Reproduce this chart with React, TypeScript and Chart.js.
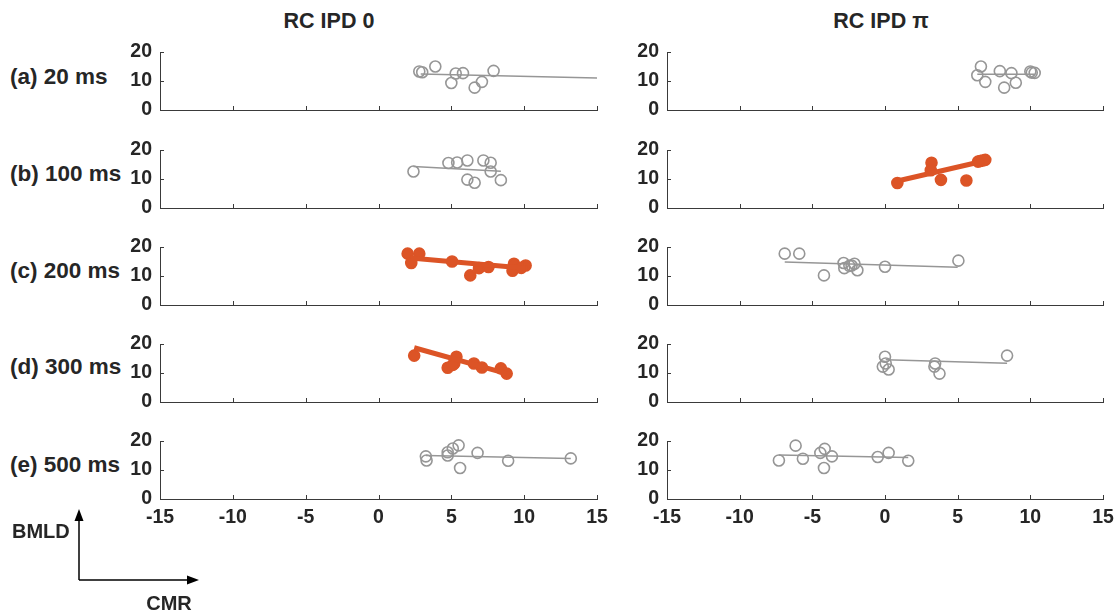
import React, { useEffect, useRef } from 'react';
import { Chart, registerables } from 'chart.js';
Chart.register(...registerables);

// ---------- tick labels / categories ----------
const xTicks = [-15, -10, -5, 0, 5, 10, 15];
const yTicks = [0, 10, 20];
const rowLabels = ['(a) 20 ms', '(b) 100 ms', '(c) 200 ms', '(d) 300 ms', '(e) 500 ms'];
const colTitles = ['RC IPD 0', 'RC IPD π'];

// ---------- data (CMR on x, BMLD on y) ----------
// (a) 20 ms
const a0X = [2.8, 3.0, 3.9, 5.0, 5.3, 5.8, 6.6, 7.1, 7.9];
const a0Y = [13.3, 13.0, 15.0, 9.3, 12.6, 12.7, 7.7, 9.7, 13.5];
const a0FitX = [2.9, 15];
const a0FitY = [12.4, 11.0];
const aPiX = [6.6, 6.35, 6.9, 7.9, 8.7, 8.2, 9.0, 10.0, 10.3, 10.1];
const aPiY = [15.0, 12.0, 9.7, 13.4, 12.7, 7.7, 9.4, 13.3, 12.8, 12.9];
const aPiFitX = [6.35, 10.3];
const aPiFitY = [12.3, 12.3];
// (b) 100 ms
const b0X = [2.4, 4.8, 5.4, 6.1, 7.2, 7.7, 7.7, 6.1, 6.6, 8.4];
const b0Y = [12.6, 15.5, 15.7, 16.4, 16.4, 15.6, 12.6, 9.8, 8.7, 9.6];
const b0FitX = [2.4, 8.4];
const b0FitY = [14.3, 12.7];
const bPiX = [0.85, 3.2, 3.15, 3.85, 5.6, 6.4, 6.7, 6.55, 6.9];
const bPiY = [8.6, 15.6, 13.0, 9.7, 9.5, 16.0, 16.4, 16.2, 16.6];
const bPiFitX = [0.85, 6.8];
const bPiFitY = [9.3, 16.2];
// (c) 200 ms
const c0X = [2.0, 2.25, 2.8, 5.05, 6.3, 6.9, 7.55, 9.3, 9.2, 10.1, 9.8];
const c0Y = [17.7, 14.5, 17.7, 15.0, 10.2, 12.7, 13.1, 14.2, 11.8, 13.6, 12.8];
const c0FitX = [2.2, 10.1];
const c0FitY = [16.2, 12.7];
const cPiX = [-6.9, -5.9, -4.2, -2.85, -2.8, -2.45, -2.1, -1.9, -2.3, 0.0, 5.05];
const cPiY = [17.7, 17.7, 10.2, 14.5, 12.7, 13.5, 14.2, 12.0, 13.6, 13.2, 15.3];
const cPiFitX = [-6.9, 5.0];
const cPiFitY = [14.8, 13.0];
// (d) 300 ms
const d0X = [2.45, 4.75, 5.35, 5.2, 5.1, 6.55, 7.1, 8.4, 8.8];
const d0Y = [16.0, 11.8, 15.6, 13.3, 12.8, 13.3, 11.9, 11.6, 9.8];
const d0FitX = [2.45, 8.8];
const d0FitY = [18.7, 9.8];
const dPiX = [0.0, 0.05, -0.15, 0.25, 3.45, 3.4, 3.75, 8.4];
const dPiY = [15.6, 13.3, 12.2, 11.2, 13.3, 12.2, 9.8, 16.0];
const dPiFitX = [0.05, 8.4];
const dPiFitY = [14.6, 13.4];
// (e) 500 ms
const e0X = [3.25, 3.3, 4.75, 4.75, 5.1, 5.5, 5.6, 6.8, 8.9, 13.2];
const e0Y = [14.7, 13.3, 16.1, 15.0, 17.4, 18.5, 10.7, 15.9, 13.2, 14.0];
const e0FitX = [3.25, 13.2];
const e0FitY = [15.0, 14.0];
const ePiX = [-7.3, -6.15, -5.65, -4.45, -4.15, -4.2, -3.65, -0.5, 0.25, 1.6];
const ePiY = [13.3, 18.4, 13.9, 15.9, 17.3, 10.7, 14.7, 14.5, 15.9, 13.2];
const ePiFitX = [-7.3, 1.6];
const ePiFitY = [15.2, 14.3];

// significance (filled orange) per panel [row][col]
const significant = [
  [false, false],
  [false, true],
  [true, false],
  [true, false],
  [false, false],
];

const panels = [
  [
    { x: a0X, y: a0Y, fx: a0FitX, fy: a0FitY },
    { x: aPiX, y: aPiY, fx: aPiFitX, fy: aPiFitY },
  ],
  [
    { x: b0X, y: b0Y, fx: b0FitX, fy: b0FitY },
    { x: bPiX, y: bPiY, fx: bPiFitX, fy: bPiFitY },
  ],
  [
    { x: c0X, y: c0Y, fx: c0FitX, fy: c0FitY },
    { x: cPiX, y: cPiY, fx: cPiFitX, fy: cPiFitY },
  ],
  [
    { x: d0X, y: d0Y, fx: d0FitX, fy: d0FitY },
    { x: dPiX, y: dPiY, fx: dPiFitX, fy: dPiFitY },
  ],
  [
    { x: e0X, y: e0Y, fx: e0FitX, fy: e0FitY },
    { x: ePiX, y: ePiY, fx: ePiFitX, fy: ePiFitY },
  ],
];

// ---------- styles / layout ----------
const FONT = '"Liberation Sans", Arial, Helvetica, sans-serif';
const TEXT = '#262626';
const AXIS = '#3a3a3a';
const GRAY = 'rgb(150,150,150)';
const ORANGE = '#dc5426';

const colPlotLeft = [160, 667];
const colPlotWidth = [437, 436];
const rowBottom = [110, 208, 305, 402, 499];
const PLOT_H = 58;
const PAD_TOP = 24;
const Y_W = 70;
const PAD_R = 22;
const TICK_FONT = 19.5;

const inwardTicks = {
  id: 'inwardTicks',
  afterDraw(chart: any) {
    const { ctx, chartArea, scales } = chart;
    const xs = scales.x;
    const ys = scales.y;
    ctx.save();
    ctx.strokeStyle = AXIS;
    ctx.lineWidth = 1;
    ctx.beginPath();
    for (const v of xTicks) {
      const px = Math.round(xs.getPixelForValue(v)) + 0.5;
      ctx.moveTo(px, chartArea.bottom);
      ctx.lineTo(px, chartArea.bottom - 4);
    }
    for (const v of yTicks) {
      const py = Math.round(ys.getPixelForValue(v)) + 0.5;
      ctx.moveTo(chartArea.left, py);
      ctx.lineTo(chartArea.left + 4, py);
    }
    ctx.stroke();
    ctx.restore();
  },
};

function Panel({ row, col }: { row: number; col: number }) {
  const ref = useRef<HTMLCanvasElement>(null);
  const showX = row === 4;
  const xh = showX ? 42 : 24;
  const left = colPlotLeft[col] - Y_W;
  const top = rowBottom[row] - PLOT_H - PAD_TOP;
  const width = Y_W + colPlotWidth[col] + PAD_R;
  const height = PAD_TOP + PLOT_H + xh;

  useEffect(() => {
    const p = panels[row][col];
    const sig = significant[row][col];
    const color = sig ? ORANGE : GRAY;
    const chart = new Chart(ref.current as HTMLCanvasElement, {
      type: 'scatter',
      data: {
        datasets: [
          {
            type: 'line',
            data: p.fx.map((v, i) => ({ x: v, y: p.fy[i] })),
            borderColor: color,
            borderWidth: sig ? 5 : 1.5,
            pointRadius: 0,
            showLine: true,
            fill: false,
            clip: false,
            order: 1,
          } as any,
          {
            type: 'scatter',
            data: p.x.map((v, i) => ({ x: v, y: p.y[i] })),
            pointRadius: 5.5,
            pointBorderWidth: 1.6,
            pointBorderColor: color,
            pointBackgroundColor: sig ? ORANGE : 'rgba(0,0,0,0)',
            clip: false,
            order: 2,
          } as any,
        ],
      },
      options: {
        animation: false,
        responsive: false,
        maintainAspectRatio: false,
        events: [],
        layout: { padding: { top: PAD_TOP, right: PAD_R, left: 0, bottom: 0 } },
        plugins: { legend: { display: false }, tooltip: { enabled: false } },
        scales: {
          x: {
            type: 'linear',
            min: -15,
            max: 15,
            afterFit: (s: any) => {
              s.height = xh;
            },
            afterBuildTicks: (s: any) => {
              s.ticks = xTicks.map((v) => ({ value: v }));
            },
            grid: { display: false, drawTicks: false },
            border: { display: true, color: AXIS, width: 1 },
            ticks: {
              display: showX,
              padding: 7,
              color: TEXT,
              font: { family: FONT, size: TICK_FONT, weight: 'bold' },
              maxRotation: 0,
            },
          },
          y: {
            type: 'linear',
            min: 0,
            max: 20,
            afterFit: (s: any) => {
              s.width = Y_W;
            },
            afterBuildTicks: (s: any) => {
              s.ticks = yTicks.map((v) => ({ value: v }));
            },
            grid: { display: false, drawTicks: false },
            border: { display: true, color: AXIS, width: 1 },
            ticks: {
              padding: 8,
              color: TEXT,
              font: { family: FONT, size: TICK_FONT, weight: 'bold' },
            },
          },
        },
      },
      plugins: [inwardTicks],
    } as any);
    return () => chart.destroy();
  }, [row, col]);

  return (
    <canvas
      ref={ref}
      width={width}
      height={height}
      style={{ position: 'absolute', left, top, width, height, display: 'block' }}
    />
  );
}

const rowLabelY = [77, 174, 271, 367, 465];
const titleCenters = [329, 881];

export default function App() {
  const textBase: React.CSSProperties = {
    position: 'absolute',
    fontFamily: FONT,
    fontWeight: 'bold',
    color: TEXT,
    whiteSpace: 'nowrap',
    lineHeight: 1,
  };
  return (
    <div style={{ position: 'absolute', left: 0, top: 0, width: 1115, height: 612, background: '#fff', overflow: 'hidden' }}>
      {colTitles.map((t, i) => (
        <div key={t} style={{ ...textBase, fontSize: 21.5, left: titleCenters[i], top: 22, transform: 'translate(-50%, -50%)' }}>
          {t}
        </div>
      ))}
      {rowLabels.map((t, i) => (
        <div key={t} style={{ ...textBase, fontSize: 22.5, left: 10, top: rowLabelY[i], transform: 'translateY(-50%)' }}>
          {t}
        </div>
      ))}
      {panels.map((r, ri) => r.map((_, ci) => <Panel key={ri + '-' + ci} row={ri} col={ci} />))}
      <svg width={1115} height={612} style={{ position: 'absolute', left: 0, top: 0, pointerEvents: 'none' }}>
        <line x1={79} y1={580} x2={79} y2={518} stroke="#000" strokeWidth={1.5} />
        <polygon points="79,509 74.5,521 83.5,521" fill="#000" />
        <line x1={79} y1={580} x2={190} y2={580} stroke="#000" strokeWidth={1.5} />
        <polygon points="199,580 187,575.5 187,584.5" fill="#000" />
      </svg>
      <div style={{ ...textBase, fontSize: 20, left: 12, top: 531, transform: 'translateY(-50%)' }}>BMLD</div>
      <div style={{ ...textBase, fontSize: 20, left: 169, top: 603, transform: 'translate(-50%, -50%)' }}>CMR</div>
    </div>
  );
}
